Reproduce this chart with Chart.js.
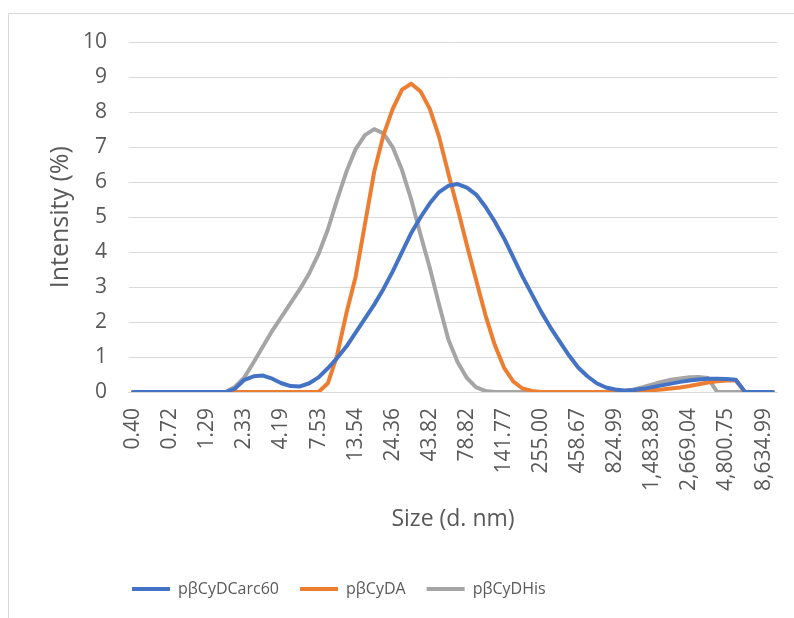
<!DOCTYPE html>
<html>
<head>
<meta charset="utf-8">
<script src="https://cdn.jsdelivr.net/npm/chart.js@4.4.1/dist/chart.umd.min.js"></script>
<style>
  html, body { margin: 0; padding: 0; background: #fff; }
  #caja { position: relative; width: 794px; height: 618px; overflow: hidden; }
  #marco { position: absolute; left: 8px; top: 13px; width: 820px; height: 640px;
           border-left: 1px solid #d9d9d9; border-top: 1px solid #d9d9d9; }
  #grafico { position: absolute; left: 0; top: 0; }
</style>
</head>
<body>
<div id="caja">
  <div id="marco"></div>
  <canvas id="grafico" width="794" height="618"></canvas>
</div>
<script>
// tamaños (d. nm)
const tamanos = [
  0.40, 0.46, 0.54, 0.62, 0.72, 0.83, 0.96, 1.12, 1.29, 1.50,
  1.74, 2.01, 2.33, 2.70, 3.12, 3.62, 4.19, 4.85, 5.62, 6.50,
  7.53, 8.72, 10.10, 11.70, 13.54, 15.69, 18.17, 21.04, 24.36, 28.21,
  32.67, 37.84, 43.82, 50.75, 58.77, 68.06, 78.82, 91.28, 105.70, 122.40,
  141.77, 164.20, 190.10, 220.20, 255.00, 295.30, 342.00, 396.10, 458.67, 531.20,
  615.10, 712.40, 824.99, 955.40, 1106.00, 1281.00, 1483.89, 1718.00, 1990.00, 2305.00,
  2669.04, 3091.00, 3580.00, 4145.00, 4800.75, 5560.00, 6439.00, 7456.00, 8634.99, 10000.00
];

const carc60 = [
  0, 0, 0, 0, 0, 0, 0, 0, 0, 0,
  0, 0.1, 0.35, 0.45, 0.47, 0.38, 0.25, 0.17, 0.16, 0.25,
  0.42, 0.68, 0.97, 1.3, 1.7, 2.1, 2.5, 2.95, 3.45, 4.0,
  4.55, 5.0, 5.4, 5.72, 5.9, 5.95, 5.85, 5.65, 5.3, 4.88,
  4.4, 3.85, 3.3, 2.8, 2.3, 1.85, 1.45, 1.05, 0.7, 0.45,
  0.25, 0.13, 0.07, 0.04, 0.06, 0.09, 0.14, 0.19, 0.24, 0.29,
  0.33, 0.36, 0.38, 0.38, 0.37, 0.35, 0, 0, 0, 0
];

const da = [
  0, 0, 0, 0, 0, 0, 0, 0, 0, 0,
  0, 0, 0, 0, 0, 0, 0, 0, 0, 0,
  0, 0.25, 1.05, 2.25, 3.3, 4.8, 6.3, 7.35, 8.1, 8.65,
  8.82, 8.6, 8.1, 7.3, 6.25, 5.25, 4.2, 3.2, 2.2, 1.35,
  0.7, 0.3, 0.1, 0.03, 0, 0, 0, 0, 0, 0,
  0, 0, 0, 0.01, 0.02, 0.03, 0.05, 0.07, 0.1, 0.13,
  0.17, 0.22, 0.27, 0.31, 0.33, 0.33, 0, 0, 0, 0
];

const his = [
  0, 0, 0, 0, 0, 0, 0, 0, 0, 0,
  0, 0.15, 0.42, 0.85, 1.3, 1.75, 2.15, 2.55, 2.95, 3.4,
  3.95, 4.65, 5.5, 6.3, 6.95, 7.35, 7.52, 7.4, 7.0, 6.35,
  5.5, 4.5, 3.55, 2.5, 1.5, 0.85, 0.4, 0.13, 0.03, 0,
  0, 0, 0, 0, 0, 0, 0, 0, 0, 0,
  0, 0, 0, 0.02, 0.07, 0.14, 0.22, 0.29, 0.35, 0.39,
  0.42, 0.43, 0.4, 0, 0, 0, 0, null, null, null
];

Chart.defaults.font.family = "'Open Sans', sans-serif";
Chart.defaults.color = '#595959';

function formato(n) {
  return n.toLocaleString('en-US', { minimumFractionDigits: 2, maximumFractionDigits: 2 });
}

// la leyenda de Excel no va centrada
const moverLeyenda = {
  id: 'moverLeyenda',
  afterLayout: function(chart) {
    chart.legend.left = 132 - chart.legend.options.labels.padding;
  }
};

function serie(nombre, datos, color) {
  return {
    label: nombre,
    data: datos,
    borderColor: color,
    backgroundColor: color,
    borderWidth: 4,
    borderCapStyle: 'round',
    borderJoinStyle: 'round',
    pointRadius: 0,
    pointHoverRadius: 0,
    pointStyle: 'line',
    tension: 0,
    fill: false
  };
}

const grafico = new Chart(document.getElementById('grafico'), {
  type: 'line',
  data: {
    labels: tamanos.map(formato),
    datasets: [
      serie('pβCyDCarc60', carc60, '#4472C4'),
      serie('pβCyDA', da, '#ED7D31'),
      serie('pβCyDHis', his, '#A5A5A5')
    ]
  },
  options: {
    responsive: false,
    animation: false,
    layout: { autoPadding: false, padding: { left: 16, right: 16.5, top: 42.5, bottom: 11 } },
    plugins: {
      tooltip: { enabled: false },
      legend: {
        position: 'bottom',
        align: 'start',
        labels: {
          usePointStyle: true,
          pointStyleWidth: 38,
          boxHeight: 4,
          padding: 21,
          color: '#595959',
          font: { size: 16 }
        }
      }
    },
    scales: {
      x: {
        offset: true,
        grid: { display: false, drawTicks: false },
        border: { display: true, color: '#d9d9d9', width: 1 },
        ticks: {
          autoSkip: false,
          minRotation: 90,
          maxRotation: 90,
          padding: 16,
          font: { size: 21 },
          callback: function(v, i) {
            return i % 4 === 0 ? this.getLabelForValue(v) : null;
          }
        },
        title: {
          display: true,
          text: 'Size (d. nm)',
          font: { size: 23 },
          padding: { top: 4, bottom: 27 }
        },
        afterFit: function(escala) {
          escala.height = 168;
          escala.paddingLeft = 0;
          escala.paddingRight = 0;
        }
      },
      y: {
        min: 0,
        max: 10,
        grid: { color: '#d9d9d9', lineWidth: 1, drawTicks: false },
        border: { display: false },
        ticks: { stepSize: 1, padding: 21.5, font: { size: 21 } },
        title: {
          display: true,
          text: 'Intensity (%)',
          font: { size: 25 },
          padding: { top: 30, bottom: 0 }
        },
        afterFit: function(escala) { escala.width = 112.5; }
      }
    }
  },
  plugins: [moverLeyenda]
});
</script>
</body>
</html>
